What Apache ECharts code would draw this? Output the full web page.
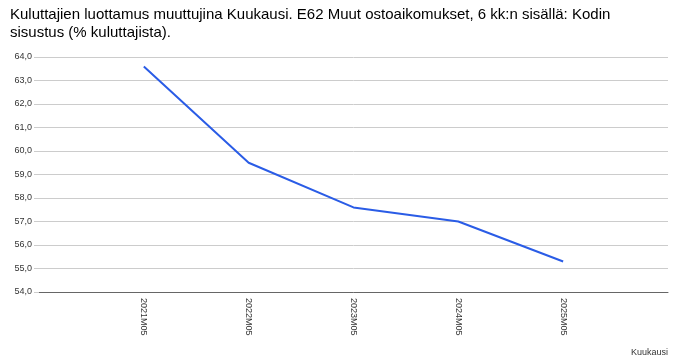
<!DOCTYPE html>
<html><head><meta charset="utf-8">
<script src="https://cdn.jsdelivr.net/npm/echarts@6/dist/echarts.min.js"></script>
<style>html,body{margin:0;padding:0;background:#fff}#c{width:674px;height:364px}</style>
</head><body><div id="c"></div>
<script>
const categories = ['', '2021M05', '2022M05', '2023M05', '2024M05', '2025M05', ''];
const values = [null, 63.6, 59.5, 57.6, 57.0, 55.3, null];
const titleText = 'Kuluttajien luottamus muuttujina Kuukausi. E62 Muut ostoaikomukset, 6 kk:n sisällä: Kodin\nsisustus (% kuluttajista).';
const xName = 'Kuukausi';

const chart = echarts.init(document.getElementById('c'), null, {renderer: 'canvas'});
chart.setOption({
  animation: false,
  title: {
    text: titleText, left: 5, top: 1,
    textStyle: {fontFamily: 'Liberation Sans, Arial', fontSize: 15, fontWeight: 'normal', color: '#000', lineHeight: 18}
  },
  grid: {left: 39, right: 6, top: 57, bottom: 72, containLabel: false},
  xAxis: {
    type: 'category', data: categories, boundaryGap: false,
    axisLine: {lineStyle: {color: '#666', width: 1}},
    axisTick: {show: false},
    axisLabel: {rotate: -90, color: '#333', fontFamily: 'Liberation Sans, Arial', fontSize: 9, margin: 6, interval: 0},
    splitLine: {show: false},
    name: xName, nameLocation: 'end', nameGap: 0,
    nameTextStyle: {fontFamily: 'Liberation Sans, Arial', fontSize: 9, color: '#333', align: 'right', verticalAlign: 'top', padding: [56, 0, 0, 0]}
  },
  yAxis: {
    type: 'value', min: 54, max: 64, interval: 1,
    axisLine: {show: false},
    axisTick: {show: true, length: 5, lineStyle: {color: '#ccc'}},
    axisLabel: {color: '#333', fontFamily: 'Liberation Sans, Arial', fontSize: 9, margin: 7,
      formatter: v => v.toFixed(1).replace('.', ',')},
    splitLine: {lineStyle: {color: '#ccc', width: 1}}
  },
  series: [{
    type: 'line', data: values, showSymbol: false, connectNulls: false,
    lineStyle: {color: '#2a5ce6', width: 2}, itemStyle: {color: '#2a5ce6'}
  }]
});
</script></body></html>
